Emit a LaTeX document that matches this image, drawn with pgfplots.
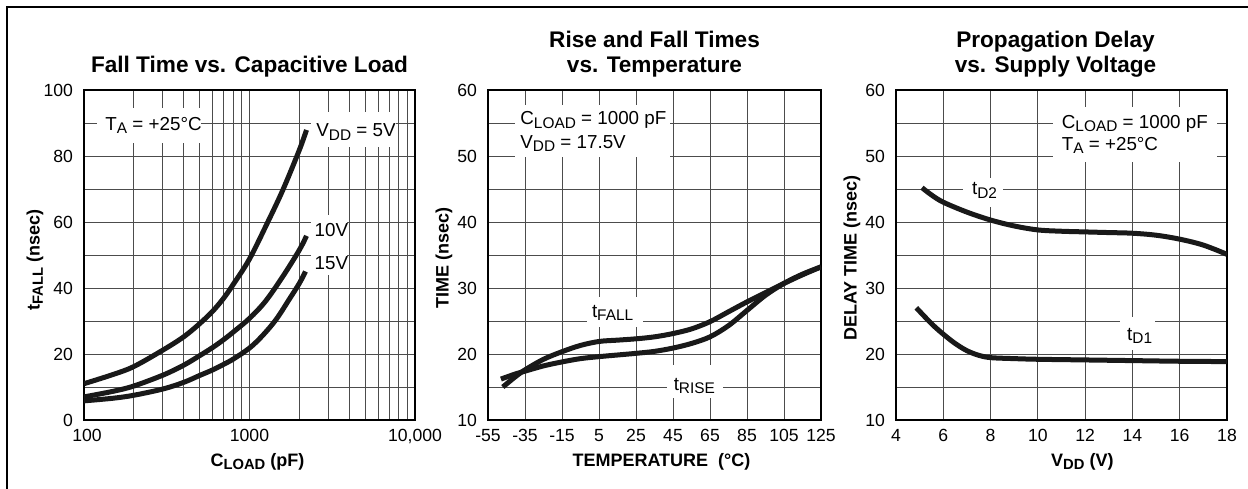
\documentclass[border=0pt]{standalone}
\usepackage{fontspec}
\setmainfont{Liberation Sans}
\usepackage{graphicx}
\usepackage{pgfplots}
\pgfplotsset{compat=1.18}

\newcommand{\sub}[1]{\raisebox{-0.18em}{\scalebox{0.82}{#1}}}
\newcommand{\ttl}{\bfseries\fontsize{11.3}{12.5}\selectfont}
\newcommand{\ann}{\fontsize{9.4}{11.7}\selectfont}

\tikzset{lbl/.style={anchor=base west, inner sep=0pt, font=\ann}}

\pgfplotsset{
  panel/.style={
    scale only axis,
    height=165pt,
    grid=both,
    major grid style={black!70, line width=0.5pt},
    minor grid style={black!70, line width=0.5pt},
    major tick length=0pt, minor tick length=0pt,
    axis line style={line width=1.4pt},
    tick label style={font=\fontsize{8.8}{10}\selectfont},
    /pgf/number format/assume math mode=true,
    xticklabel style={anchor=base, yshift=-10.9pt},
    yticklabel style={anchor=east, xshift=-2pt},
    label style={font=\bfseries\fontsize{9}{11}\selectfont},
    xlabel style={anchor=base},
    ylabel style={anchor=center},
  },
  curve/.style={line width=2.5pt, black!90, smooth, tension=0.55},
}

\begin{document}
\begin{tikzpicture}
\useasboundingbox (0,0) rectangle (624pt,244pt);
\draw[line width=1.15pt] (3.4pt,-2pt) -- (3.4pt,240.6pt) -- (626pt,240.6pt);

% Fall time vs. capacitive load
\begin{axis}[panel, name=ax1, at={(42pt,34pt)}, anchor=south west, width=165.5pt,
  xmode=log, xmin=100, xmax=10000, ymin=0, ymax=100,
  xtick={100,1000,10000},
  xticklabels={\hspace{3pt}100,1000,{10,000\hspace{10pt}}},
  minor xtick={200,300,400,500,600,700,800,900,2000,3000,4000,5000,6000,7000,8000,9000},
  ytick={0,20,...,100}, minor ytick={10,30,...,90},
  xlabel={C\sub{LOAD} (pF)}, ylabel={t\sub{FALL} (nsec)},
  xlabel style={at={(axis description cs:0.524,-0.1394)}},
  ylabel style={at={(axis description cs:-0.148,0.485)}},
  ]
  \fill[white] (axis cs:119,94.4) rectangle (axis cs:511,83.8);
  \fill[white] (axis cs:2353,93.4) rectangle (axis cs:7655,82.8);
  \fill[white] (axis cs:2353,62.1) rectangle (axis cs:3905,43.9);
  % VDD = 5V
  \addplot[curve] coordinates {(100,11) (150,13.8) (200,16.2) (300,21.2) (400,25.2) (500,29.2) (600,33) (700,37) (800,41.2) (1000,48.8) (1290,60) (1590,69.7) (2000,81.8) (2210,87.9)};
  % 10V
  \addplot[curve] coordinates {(100,7) (150,8.7) (200,10.3) (300,13.6) (400,16.6) (500,19.5) (600,22) (700,24.4) (800,26.7) (1000,30.8) (1250,36) (1590,43.5) (2000,51.5) (2210,55.8)};
  % 15V
  \addplot[curve] coordinates {(100,5.8) (150,6.6) (200,7.5) (300,9.4) (400,11.4) (500,13.5) (600,15.2) (700,16.9) (800,18.5) (1000,21.8) (1200,25.6) (1450,30.5) (1750,36.8) (2000,41.4) (2180,45)};
  \node[lbl] at (axis cs:134,87.7) {T\sub{A} = +25°C};
  \node[lbl] at (axis cs:2522,85.8) {V\sub{DD} = 5V};
  \node[lbl] at (axis cs:2464,55.6) {10V};
  \node[lbl] at (axis cs:2464,45.5) {15V};
\end{axis}

% Rise and fall times vs. temperature
\begin{axis}[panel, name=ax2, at={(244pt,34pt)}, anchor=south west, width=166.5pt,
  xmin=-55, xmax=125, ymin=10, ymax=60,
  xtick={-55,-35,...,125},
  xticklabels={-55,-35,-15,5,25,45,65,85,105,125},
  ytick={10,20,...,60}, minor ytick={15,25,...,55},
  xlabel={TEMPERATURE\ \ (°C)}, ylabel={TIME (nsec)},
  xlabel style={at={(axis description cs:0.521,-0.1394)}},
  ylabel style={at={(axis description cs:-0.132,0.49)}},
  ]
  \fill[white] (axis cs:-40.4,57.7) rectangle (axis cs:43.4,49.9);
  \fill[white] (axis cs:-1.65,28.7) rectangle (axis cs:28.95,24.1);
  \fill[white] (axis cs:41.6,18.3) rectangle (axis cs:72.2,13.3);
  % tFALL
  \addplot[curve] coordinates {(-47,15) (-40,16.6) (-35,17.6) (-25,19.2) (-15,20.35) (-5,21.3) (5,21.9) (15,22.1) (25,22.3) (35,22.6) (45,23.1) (55,23.8) (65,24.9) (75,26.4) (85,27.9) (95,29.3) (105,30.7) (115,32) (125,33.2)};
  % tRISE
  \addplot[curve] coordinates {(-48,16.2) (-40,17) (-35,17.4) (-25,18.2) (-15,18.8) (-5,19.3) (5,19.6) (15,19.85) (25,20.1) (35,20.4) (45,20.9) (55,21.6) (65,22.6) (75,24.3) (85,26.6) (95,28.9) (105,30.7) (115,32.1) (125,33.2)};
  \node[lbl] at (axis cs:-37.7,54.7) {C\sub{LOAD} = 1000 pF};
  \node[lbl] at (axis cs:-37.7,51.2) {V\sub{DD} = 17.5V};
  \node[lbl] at (axis cs:1,25.6) {t\sub{FALL}};
  \node[lbl] at (axis cs:45.2,14.5) {t\sub{RISE}};
\end{axis}

% Propagation delay vs. supply voltage
\begin{axis}[panel, name=ax3, at={(448pt,34pt)}, anchor=south west, width=165.5pt,
  xmin=4, xmax=18, ymin=10, ymax=60,
  xtick={4,6,...,18},
  ytick={10,20,...,60}, minor ytick={15,25,...,55},
  xlabel={V\sub{DD} (V)}, ylabel={DELAY TIME (nsec)},
  xlabel style={at={(axis description cs:0.563,-0.1394)}},
  ylabel style={at={(axis description cs:-0.133,0.49)}},
  ]
  \fill[white] (axis cs:10.66,57.5) rectangle (axis cs:17.57,49.1);
  \fill[white] (axis cs:6.85,46.6) rectangle (axis cs:8.54,42.3);
  \fill[white] (axis cs:13.48,25.65) rectangle (axis cs:14.96,20.6);
  % tD2
  \addplot[curve] coordinates {(5.1,45.2) (5.5,44.1) (6,43) (7,41.5) (8,40.3) (9,39.4) (10,38.8) (11,38.6) (12,38.5) (13,38.4) (14,38.3) (15,38) (16,37.4) (17,36.5) (18,35.1)};
  % tD1
  \addplot[curve] coordinates {(4.86,27) (5.5,24.6) (6,23) (6.5,21.6) (7,20.5) (7.5,19.8) (8,19.45) (9,19.3) (10,19.2) (12,19.1) (14,19) (16,18.9) (18,18.85)};
  \node[lbl] at (axis cs:11.0,54.2) {C\sub{LOAD} = 1000 pF};
  \node[lbl] at (axis cs:11.0,50.9) {T\sub{A} = +25°C};
  \node[lbl] at (axis cs:7.2,44.1) {t\sub{D2}};
  \node[lbl] at (axis cs:13.76,22.1) {t\sub{D1}};
\end{axis}

\node[anchor=base, font=\ttl] at ([yshift=8.5pt]ax1.north) {Fall Time vs. Capacitive Load};
\node[anchor=base, font=\ttl] at ([yshift=21.3pt]ax2.north) {Rise and Fall Times};
\node[anchor=base, font=\ttl] at ([yshift=8.8pt]ax2.north) {vs. Temperature};
\node[anchor=base, font=\ttl] at ([xshift=-3pt,yshift=21.3pt]ax3.north) {Propagation Delay};
\node[anchor=base, font=\ttl] at ([xshift=-3pt,yshift=8.8pt]ax3.north) {vs. Supply Voltage};
\end{tikzpicture}
\end{document}
